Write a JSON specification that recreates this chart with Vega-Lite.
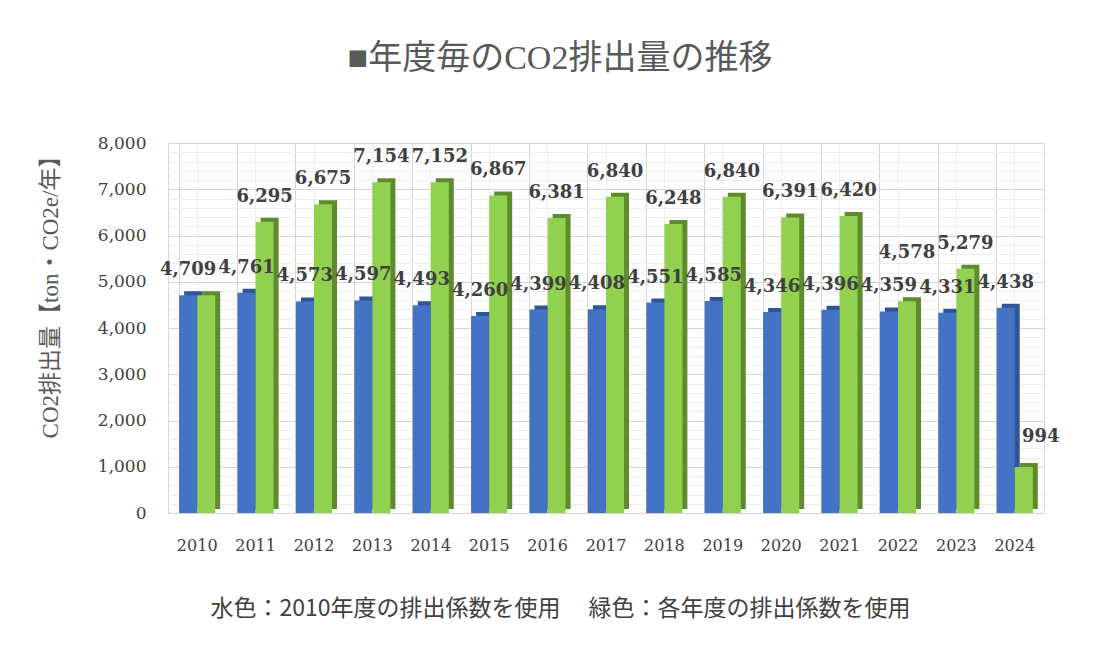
{
  "$schema": "https://vega.github.io/schema/vega-lite/v6.json",
  "width": 876,
  "height": 370,
  "autosize": "none",
  "padding": {"left": 168, "top": 143, "right": 53, "bottom": 146},
  "background": "white",
  "config": {"view": {"stroke": "#D9D9D9"}},
  "title": {
    "text": "■年度毎のCO2排出量の推移",
    "font": "Liberation Serif, Noto Sans CJK JP",
    "fontSize": 34,
    "fontWeight": "normal",
    "color": "#595959",
    "frame": "group",
    "anchor": "middle",
    "dx": -46,
    "offset": 58
  },
  "data": {
    "values": [
      {"year": "2010", "series": "2010年度の排出係数", "value": 4709},
      {"year": "2010", "series": "各年度の排出係数", "value": 4709},
      {"year": "2011", "series": "2010年度の排出係数", "value": 4761},
      {"year": "2011", "series": "各年度の排出係数", "value": 6295},
      {"year": "2012", "series": "2010年度の排出係数", "value": 4573},
      {"year": "2012", "series": "各年度の排出係数", "value": 6675},
      {"year": "2013", "series": "2010年度の排出係数", "value": 4597},
      {"year": "2013", "series": "各年度の排出係数", "value": 7154},
      {"year": "2014", "series": "2010年度の排出係数", "value": 4493},
      {"year": "2014", "series": "各年度の排出係数", "value": 7152},
      {"year": "2015", "series": "2010年度の排出係数", "value": 4260},
      {"year": "2015", "series": "各年度の排出係数", "value": 6867},
      {"year": "2016", "series": "2010年度の排出係数", "value": 4399},
      {"year": "2016", "series": "各年度の排出係数", "value": 6381},
      {"year": "2017", "series": "2010年度の排出係数", "value": 4408},
      {"year": "2017", "series": "各年度の排出係数", "value": 6840},
      {"year": "2018", "series": "2010年度の排出係数", "value": 4551},
      {"year": "2018", "series": "各年度の排出係数", "value": 6248},
      {"year": "2019", "series": "2010年度の排出係数", "value": 4585},
      {"year": "2019", "series": "各年度の排出係数", "value": 6840},
      {"year": "2020", "series": "2010年度の排出係数", "value": 4346},
      {"year": "2020", "series": "各年度の排出係数", "value": 6391},
      {"year": "2021", "series": "2010年度の排出係数", "value": 4396},
      {"year": "2021", "series": "各年度の排出係数", "value": 6420},
      {"year": "2022", "series": "2010年度の排出係数", "value": 4359},
      {"year": "2022", "series": "各年度の排出係数", "value": 4578},
      {"year": "2023", "series": "2010年度の排出係数", "value": 4331},
      {"year": "2023", "series": "各年度の排出係数", "value": 5279},
      {"year": "2024", "series": "2010年度の排出係数", "value": 4438},
      {"year": "2024", "series": "各年度の排出係数", "value": 994}
    ]
  },
  "encoding": {
    "y": {
      "field": "value",
      "type": "quantitative",
      "scale": {"domain": [0, 8000], "nice": false},
      "axis": {
        "values": [0, 200, 400, 600, 800, 1000, 1200, 1400, 1600, 1800, 2000, 2200, 2400, 2600, 2800, 3000, 3200, 3400, 3600, 3800, 4000, 4200, 4400, 4600, 4800, 5000, 5200, 5400, 5600, 5800, 6000, 6200, 6400, 6600, 6800, 7000, 7200, 7400, 7600, 7800, 8000],
        "labelExpr": "datum.value % 1000 === 0 ? format(datum.value, ',') : ''",
        "domain": false,
        "ticks": false,
        "grid": true,
        "gridColor": {"condition": {"test": "datum.value % 1000 === 0", "value": "#D4D4D4"}, "value": "#EDEDED"},
        "labelFont": "DejaVu Serif",
        "labelFontSize": 17,
        "labelColor": "#404040",
        "labelPadding": 22,
        "title": "CO2排出量【ton・CO2e/年】",
        "titleFont": "Liberation Serif, Noto Sans CJK JP",
        "titleFontSize": 23,
        "titleFontWeight": "normal",
        "titleColor": "#595959",
        "titleY": 148,
        "titleAlign": "center",
        "titlePadding": 35
      }
    }
  },
  "layer": [
    {
      "transform": [{"filter": "datum.series === '2010年度の排出係数'"}],
      "mark": {"type": "bar", "width": {"band": 0.5}, "xOffset": -4, "yOffset": -4, "y2Offset": -4, "color": "#2F5597"},
      "encoding": {
        "x": {
          "field": "year",
          "type": "nominal",
          "scale": {"paddingInner": 0.38, "paddingOuter": 0.19},
          "axis": {"orient": "top", "labels": false, "ticks": false, "domain": false, "title": null, "grid": true, "bandPosition": 0.5, "gridColor": "#EDEDED"}
        }
      }
    },
    {
      "transform": [{"filter": "datum.series === '2010年度の排出係数'"}],
      "mark": {"type": "bar", "width": {"band": 0.5}, "xOffset": -9.05, "color": "#4472C4"},
      "encoding": {
        "x": {
          "field": "year",
          "type": "nominal",
          "axis": {
            "orient": "bottom",
            "labelAngle": 0,
            "labelFont": "DejaVu Serif",
            "labelFontSize": 16,
            "labelColor": "#404040",
            "labelPadding": 24,
            "domain": false,
            "ticks": false,
            "grid": true,
            "bandPosition": 0,
            "gridColor": "#D4D4D4",
            "title": "水色：2010年度の排出係数を使用　 緑色：各年度の排出係数を使用",
            "titleFont": "Noto Sans CJK JP",
            "titleFontSize": 23,
            "titleFontWeight": "normal",
            "titleColor": "#404040",
            "titleX": 392,
            "titleY": 95,
            "titleBaseline": "middle",
            "titleAlign": "center"
          }
        }
      }
    },
    {
      "transform": [{"filter": "datum.series === '各年度の排出係数'"}],
      "mark": {"type": "bar", "width": {"band": 0.5}, "xOffset": 14.05, "yOffset": -4, "y2Offset": -4, "color": "#5E8B2E"},
      "encoding": {"x": {"field": "year", "type": "nominal", "axis": null}}
    },
    {
      "transform": [{"filter": "datum.series === '各年度の排出係数'"}],
      "mark": {"type": "bar", "width": {"band": 0.5}, "xOffset": 9.05, "color": "#92D050"},
      "encoding": {"x": {"field": "year", "type": "nominal", "axis": null}}
    },
    {
      "transform": [{"filter": "!(datum.series === '各年度の排出係数' && (datum.year === '2010' || datum.year === '2022' || datum.year === '2024'))"}],
      "mark": {"type": "text", "baseline": "bottom", "dy": -16, "font": "DejaVu Serif", "fontSize": 18, "fontWeight": "bold", "color": "#404040"},
      "encoding": {
        "x": {"field": "year", "type": "nominal", "axis": null},
        "xOffset": {"field": "series", "type": "nominal", "sort": ["2010年度の排出係数", "各年度の排出係数"]},
        "text": {"field": "value", "type": "quantitative", "format": ","}
      }
    },
    {
      "transform": [{"filter": "datum.year === '2022' && datum.series === '各年度の排出係数'"}],
      "mark": {"type": "text", "baseline": "bottom", "dy": -39, "font": "DejaVu Serif", "fontSize": 18, "fontWeight": "bold", "color": "#404040"},
      "encoding": {
        "x": {"field": "year", "type": "nominal", "axis": null},
        "xOffset": {"field": "series", "type": "nominal", "sort": ["2010年度の排出係数", "各年度の排出係数"]},
        "text": {"field": "value", "type": "quantitative", "format": ","}
      }
    },
    {
      "transform": [{"filter": "datum.year === '2024' && datum.series === '各年度の排出係数'"}],
      "mark": {"type": "text", "baseline": "bottom", "dy": -21, "dx": 17, "font": "DejaVu Serif", "fontSize": 18, "fontWeight": "bold", "color": "#404040"},
      "encoding": {
        "x": {"field": "year", "type": "nominal", "axis": null},
        "xOffset": {"field": "series", "type": "nominal", "sort": ["2010年度の排出係数", "各年度の排出係数"]},
        "text": {"field": "value", "type": "quantitative", "format": ","}
      }
    }
  ],
  "resolve": {"axis": {"x": "independent"}}
}
